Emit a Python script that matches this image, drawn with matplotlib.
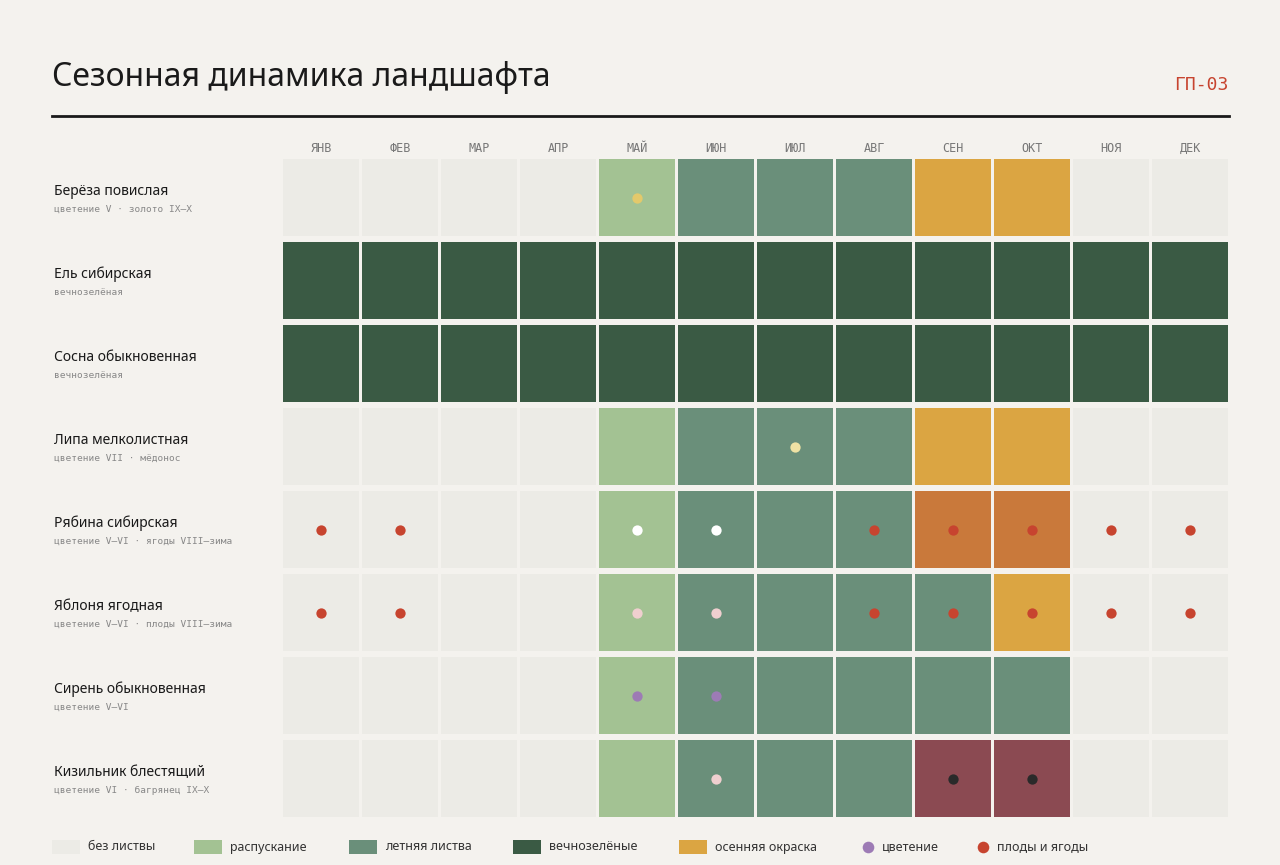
import matplotlib.pyplot as plt
from matplotlib.patches import Rectangle

months = ['ЯНВ', 'ФЕВ', 'МАР', 'АПР', 'МАЙ', 'ИЮН', 'ИЮЛ', 'АВГ', 'СЕН', 'ОКТ', 'НОЯ', 'ДЕК']
species = ['Берёза повислая', 'Ель сибирская', 'Сосна обыкновенная', 'Липа мелколистная',
           'Рябина сибирская', 'Яблоня ягодная', 'Сирень обыкновенная', 'Кизильник блестящий']
notes = ['цветение V · золото IX–X', 'вечнозелёная', 'вечнозелёная', 'цветение VII · мёдонос',
         'цветение V–VI · ягоды VIII–зима', 'цветение V–VI · плоды VIII–зима', 'цветение V–VI',
         'цветение VI · багрянец IX–X']
# 0 no leaves, 1 bud, 2 summer, 3 evergreen, 4 autumn, 5 rowan autumn, 6 crimson
states = [
    [0, 0, 0, 0, 1, 2, 2, 2, 4, 4, 0, 0],
    [3] * 12,
    [3] * 12,
    [0, 0, 0, 0, 1, 2, 2, 2, 4, 4, 0, 0],
    [0, 0, 0, 0, 1, 2, 2, 2, 5, 5, 0, 0],
    [0, 0, 0, 0, 1, 2, 2, 2, 2, 4, 0, 0],
    [0, 0, 0, 0, 1, 2, 2, 2, 2, 2, 0, 0],
    [0, 0, 0, 0, 1, 2, 2, 2, 6, 6, 0, 0],
]
# dots: (row, month, kind)
dots = [(0, 4, 'y'), (3, 6, 'ly'),
        (4, 0, 'r'), (4, 1, 'r'), (4, 4, 'w'), (4, 5, 'w'), (4, 7, 'r'), (4, 8, 'r'), (4, 9, 'r'), (4, 10, 'r'), (4, 11, 'r'),
        (5, 0, 'r'), (5, 1, 'r'), (5, 4, 'p'), (5, 5, 'p'), (5, 7, 'r'), (5, 8, 'r'), (5, 9, 'r'), (5, 10, 'r'), (5, 11, 'r'),
        (6, 4, 'v'), (6, 5, 'v'),
        (7, 5, 'p'), (7, 8, 'k'), (7, 9, 'k')]

fill = {0: '#ecebe6', 1: '#a3c293', 2: '#6a8f7a', 3: '#3a5a44', 4: '#dba542', 5: '#c9793b', 6: '#8b4a52'}
dotc = {'y': '#e3c96b', 'ly': '#efe2a4', 'r': '#c7442f', 'w': '#ffffff', 'p': '#efcfcf', 'v': '#9d7bb5', 'k': '#2a2a2a'}
legend_items = [('без листвы', 0), ('распускание', 1), ('летняя листва', 2), ('вечнозелёные', 3),
                ('осенняя окраска', 4), ('цветение', 'v'), ('плоды и ягоды', 'r')]

bg = '#f4f2ee'
sans = ['Noto Sans', 'DejaVu Sans']
mono = ['DejaVu Sans Mono']

fig = plt.figure(figsize=(12.8, 8.65), dpi=100, facecolor=bg)
ax = fig.add_axes([0, 0, 1, 1])
ax.set_xlim(0, 1280)
ax.set_ylim(865, 0)
ax.axis('off')

ax.text(52, 77, 'Сезонная динамика ландшафта', fontsize=23, fontweight='bold', family=sans,
        color='#1a1a1a', va='center')
ax.text(1229, 85, 'ГП-03', fontsize=13, family=mono, color='#c7442f', va='center', ha='right')
ax.plot([52, 1229], [116, 116], color='#1a1a1a', lw=2)

x0, cw, gap = 283, 79.0, 3
y0, rh, rgap = 159, 77, 6
for j, m in enumerate(months):
    ax.text(x0 + j * cw + (cw - gap) / 2, 148, m, fontsize=8.5, family=mono, color='#777',
            ha='center', va='center')
for i, sp in enumerate(species):
    y = y0 + i * (rh + rgap)
    ax.text(54, y + rh / 2 - 6, sp, fontsize=10, fontweight='bold', family=sans, color='#1a1a1a', va='center')
    ax.text(54, y + rh / 2 + 12, notes[i], fontsize=6.8, family=mono, color='#888', va='center')
    for j, s in enumerate(states[i]):
        ax.add_patch(Rectangle((x0 + j * cw, y), cw - gap, rh, color=fill[s], lw=0))
for i, j, k in dots:
    y = y0 + i * (rh + rgap) + rh / 2
    ax.scatter(x0 + j * cw + (cw - gap) / 2, y, s=55, color=dotc[k], zorder=3, lw=0)

lx = [52, 194, 349, 513, 679, 862, 977]
for (lab, key), x in zip(legend_items, lx):
    if isinstance(key, int):
        ax.add_patch(Rectangle((x, 840), 28, 14, color=fill[key], lw=0))
        tx = x + 36
    else:
        ax.scatter(x + 6, 847, s=70, color=dotc[key], lw=0)
        tx = x + 20
    ax.text(tx, 847, lab, fontsize=9, family=sans, color='#333', va='center')

fig.savefig('out.png', dpi=100, facecolor=bg)
